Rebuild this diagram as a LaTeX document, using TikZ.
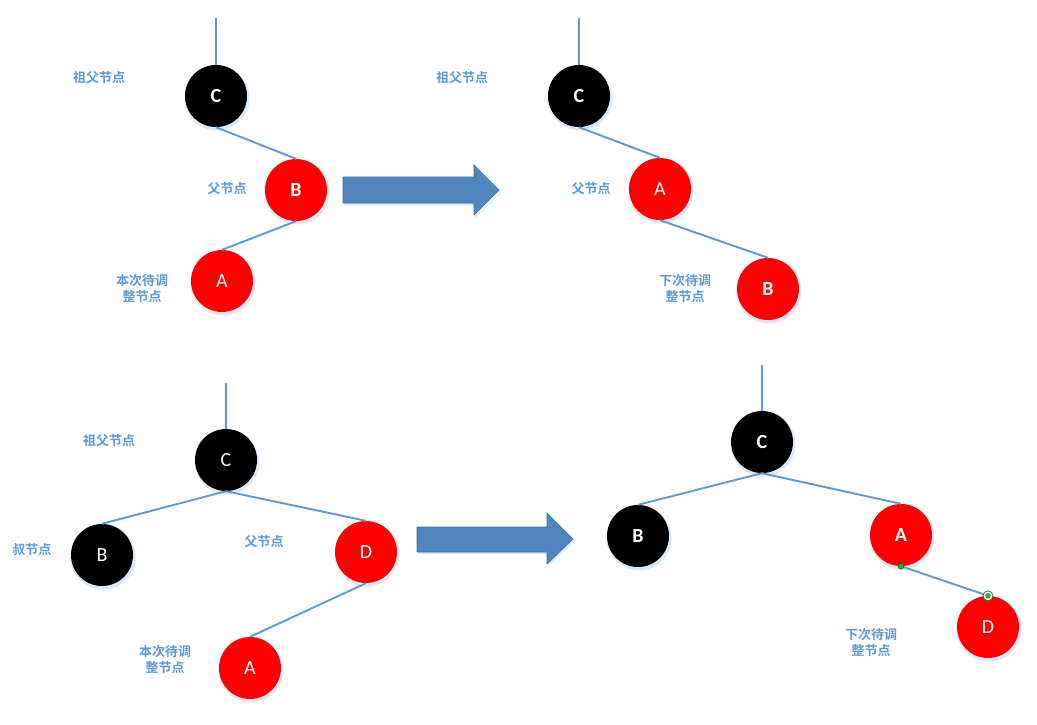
\documentclass[tikz,border=0pt]{standalone}
\usepackage{fontspec}
\setmainfont{Carlito}
\newfontfamily\cjkfont{Noto Sans CJK SC}[BoldFont={* Bold}]
\definecolor{linkblue}{HTML}{5B9BD5}
\definecolor{labblue}{HTML}{5B9BD5}
\definecolor{nodered}{HTML}{FF0000}
\definecolor{arrowfill}{HTML}{4F86BD}
\definecolor{arrowedge}{HTML}{41719C}
\definecolor{glow}{HTML}{DCE8F5}
\definecolor{dotgreen}{HTML}{22B222}
\definecolor{dotedge}{HTML}{1A6B1A}
\tikzset{
  rbnode/.style={circle, minimum size=62pt, inner sep=0pt, text=white,
    font=\fontsize{20}{20}\selectfont},
  heavy/.style={font=\fontsize{20}{20}\selectfont\bfseries},
  blacknode/.style={rbnode, fill=black},
  rednode/.style={rbnode, fill=nodered},
  link/.style={draw=linkblue, line width=1.9pt},
  lab/.style={text=labblue, align=center, inner sep=0pt,
    font=\cjkfont\bfseries\fontsize{13}{16}\selectfont},
  bigarrow/.style={fill=arrowfill, draw=arrowedge, line width=0.6pt, line join=miter},
}
\begin{document}
\begin{tikzpicture}[x=1pt,y=-1pt]
\useasboundingbox (0,0) rectangle (1037,724);
\fill[white] (0,0) rectangle (1037,724);

% soft glows under nodes
\foreach \p in {(217,98),(297,192),(223,283),(580,98),(661,191),(769,291),
                (227,462),(103,557),(367,554),(251,670),(763,444),(639,538),(902,537),(989,629)}
  \fill[glow] \p circle (32.5pt);
% arrow glows
\fill[glow] (344,179) -- (475,179) -- (475,167) -- (501,192) -- (475,218) -- (475,205) -- (344,205) -- cycle;
\fill[glow] (418,529) -- (548,529) -- (548,515) -- (575,541) -- (548,566) -- (548,554) -- (418,554) -- cycle;

% ---------- top left ----------
\node[blacknode, heavy] (tlC) at (216,96) {C};
\node[rednode, heavy]   (tlB) at (296,190) {B};
\node[rednode]   (tlA) at (222,281) {A};
\coordinate (tlTop) at (216,18);
\draw[link] (tlTop) -- (tlC.north);
\draw[link] (tlC.south) -- (tlB.north);
\draw[link] (tlB.south) -- (tlA.north);
\node[lab] (tlL1) at (99,78) {祖父节点};
\node[lab] (tlL2) at (227,189) {父节点};
\node[lab] (tlL3) at (142,289) {本次待调\\整节点};

% top arrow
\draw[bigarrow] (343,177) -- (474,177) -- (474,165) -- (499,190) -- (474,215) -- (474,203) -- (343,203) -- cycle;

% ---------- top right ----------
\node[blacknode, heavy] (trC) at (579,96) {C};
\node[rednode]   (trA) at (660,189) {A};
\node[rednode, heavy]   (trB) at (768,289) {B};
\coordinate (trTop) at (579,18);
\draw[link] (trTop) -- (trC.north);
\draw[link] (trC.south) -- (trA.north);
\draw[link] (trA.south) -- (trB.north);
\node[lab] (trL1) at (462,78) {祖父节点};
\node[lab] (trL2) at (591,189) {父节点};
\node[lab] (trL3) at (685,289) {下次待调\\整节点};

% ---------- bottom left ----------
\node[blacknode] (blC) at (226,460) {C};
\node[blacknode] (blB) at (102,555) {B};
\node[rednode]   (blD) at (366,552) {D};
\node[rednode]   (blA) at (250,668) {A};
\coordinate (blTop) at (226,383);
\draw[link] (blTop) -- (blC.north);
\draw[link] (blC.south) -- (blB.north);
\draw[link] (blC.south) -- (blD.north);
\draw[link] (blD.south) -- (blA.north);
\node[lab] (blL1) at (109,441) {祖父节点};
\node[lab] (blL2) at (32,550) {叔节点};
\node[lab] (blL3) at (264,542) {父节点};
\node[lab] (blL4) at (165,660) {本次待调\\整节点};

% bottom arrow
\draw[bigarrow] (417,527) -- (547,527) -- (547,513) -- (573,539) -- (547,564) -- (547,552) -- (417,552) -- cycle;

% ---------- bottom right ----------
\node[blacknode, heavy] (brC) at (762,442) {C};
\node[blacknode, heavy] (brB) at (638,536) {B};
\node[rednode, heavy]   (brA) at (901,535) {A};
\node[rednode]   (brD) at (988,627) {D};
\coordinate (brTop) at (762,365);
\draw[link] (brTop) -- (brC.north);
\draw[link] (brC.south) -- (brB.north);
\draw[link] (brC.south) -- (brA.north);
\draw[link] (brA.south) -- (brD.north);
\node[lab] (brL1) at (871,643) {下次待调\\整节点};

% selection handles
\fill[dotgreen, draw=dotedge, line width=0.5pt] (brA.south) circle (3pt);
\fill[white, draw=dotedge, line width=0.7pt] (brD.north) circle (5pt);
\fill[dotgreen] (brD.north) circle (2.8pt);
\end{tikzpicture}
\end{document}
